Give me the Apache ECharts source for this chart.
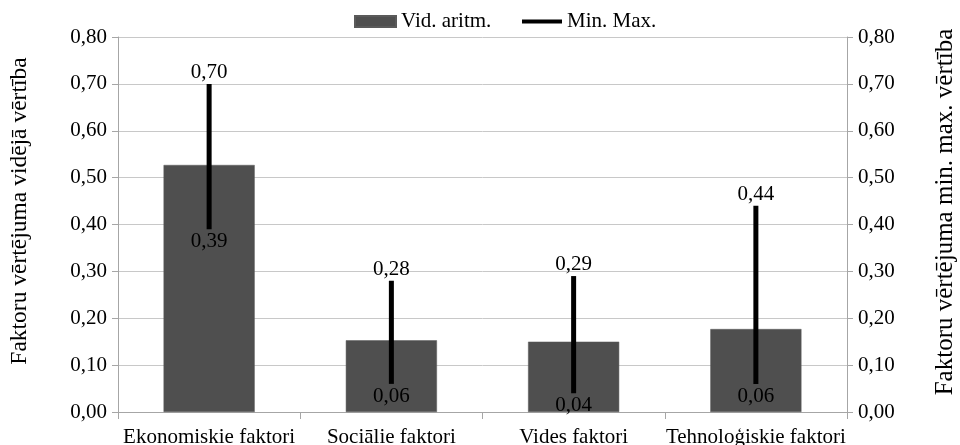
<!DOCTYPE html>
<html>
<head>
<meta charset="utf-8">
<script src="https://cdn.jsdelivr.net/npm/echarts@6/dist/echarts.min.js"></script>
<style>html,body{margin:0;padding:0;background:#fff;}#c{width:960px;height:445px;}</style>
</head>
<body>
<div id="c"></div>
<script>
var categories = ['Ekonomiskie faktori', 'Sociālie faktori', 'Vides faktori', 'Tehnoloģiskie faktori'];
var meanValues = [0.527, 0.153, 0.150, 0.177];
var minValues = [0.39, 0.06, 0.04, 0.06];
var maxValues = [0.70, 0.28, 0.29, 0.44];
var yTicks = [0, 0.8, 0.1];
var leftTitle = 'Faktoru vērtējuma vidējā vērtība';
var rightTitle = 'Faktoru vērtējuma min. max. vērtība';

var FONT = 'Liberation Serif';
function fmt(v){ return v.toFixed(2).replace('.', ','); }

var rangeData = categories.map(function(c, i){ return [i, minValues[i], maxValues[i]]; });

var chart = echarts.init(document.getElementById('c'));
var yAxisCommon = {
  type: 'value', min: yTicks[0], max: yTicks[1], interval: yTicks[2],
  axisLine: {show: true, lineStyle: {color: '#a6a6a6', width: 1}},
  axisTick: {show: true, length: 6, lineStyle: {color: '#a6a6a6'}},
  axisLabel: {fontFamily: FONT, fontSize: 21, color: '#000', margin: 11, formatter: function(v){ return fmt(v); }},
  splitLine: {show: true, lineStyle: {color: '#c8c8c8', width: 1}}
};
chart.setOption({
  animation: false,
  grid: {left: 118, right: 113, top: 37, bottom: 33, outerBoundsMode: 'none', containLabel: false},
  graphic: [
    {type: 'text', x: 20, y: 211, rotation: Math.PI / 2,
     style: {text: leftTitle, font: '23.5px "' + FONT + '"', fill: '#000', textAlign: 'center', textVerticalAlign: 'middle'}},
    {type: 'text', x: 945, y: 212, rotation: Math.PI / 2,
     style: {text: rightTitle, font: '25px "' + FONT + '"', fill: '#000', textAlign: 'center', textVerticalAlign: 'middle'}}
  ],
  legend: [
    {data: [{name: 'Vid. aritm.'}], left: 349, top: 6, itemWidth: 41, itemHeight: 11, itemGap: 4,
     textStyle: {fontFamily: FONT, fontSize: 21, color: '#000'}, icon: 'rect'},
    {data: [{name: 'Min. Max.'}], left: 517, top: 6, itemWidth: 40, itemHeight: 4, itemGap: 4,
     textStyle: {fontFamily: FONT, fontSize: 21, color: '#000'}, icon: 'rect'}
  ],
  xAxis: {
    type: 'category', data: categories, boundaryGap: true,
    axisLine: {lineStyle: {color: '#a6a6a6'}},
    axisTick: {show: true, length: 7, alignWithLabel: false, lineStyle: {color: '#a6a6a6'}},
    axisLabel: {fontFamily: FONT, fontSize: 21, color: '#000', margin: 15, interval: 0}
  },
  yAxis: [
    Object.assign({}, yAxisCommon, {position: 'left'}),
    Object.assign({}, yAxisCommon, {position: 'right', splitLine: {show: false}})
  ],
  series: [
    {name: 'Vid. aritm.', type: 'bar', data: meanValues, barWidth: '50%', yAxisIndex: 0,
     itemStyle: {color: '#4f4f4f', borderColor: '#5a5a5a', borderWidth: 0.5}},
    {name: 'Min. Max.', type: 'custom', yAxisIndex: 1, data: rangeData, z: 5,
     itemStyle: {color: '#000'},
     encode: {x: 0, y: [1, 2]},
     renderItem: function(params, api){
       var i = api.value(0);
       var lo = api.coord([i, api.value(1)]);
       var hi = api.coord([i, api.value(2)]);
       return {type: 'group', children: [
         {type: 'line', shape: {x1: lo[0], y1: lo[1], x2: hi[0], y2: hi[1]}, style: {stroke: '#000', lineWidth: 5}},
         {type: 'text', x: hi[0], y: hi[1] - 1, style: {text: fmt(api.value(2)), textAlign: 'center', textVerticalAlign: 'bottom', font: '21px "' + FONT + '"', fill: '#000'}},
         {type: 'text', x: lo[0], y: lo[1] + 2, style: {text: fmt(api.value(1)), textAlign: 'center', textVerticalAlign: 'top', font: '21px "' + FONT + '"', fill: '#000'}}
       ]};
     }}
  ]
});
</script>
</body>
</html>
